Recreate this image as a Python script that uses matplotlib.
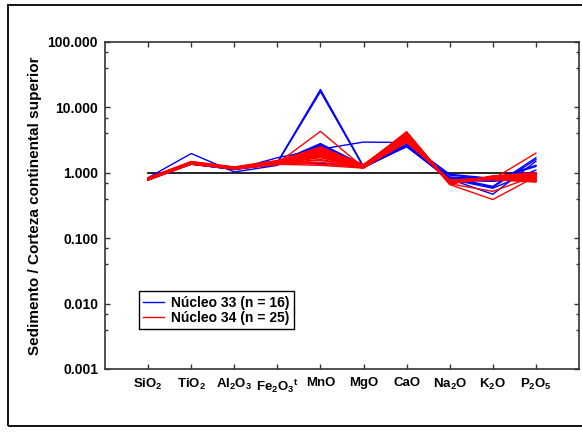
import matplotlib
matplotlib.use("Agg")
import matplotlib.pyplot as plt
from matplotlib.ticker import FixedLocator, FuncFormatter, NullFormatter
from matplotlib.patches import Rectangle
from matplotlib.lines import Line2D

plt.rcParams.update({
    "font.family": "Liberation Sans",
    "font.weight": "bold",
    "mathtext.fontset": "custom",
    "mathtext.rm": "Liberation Sans:bold",
    "mathtext.it": "Liberation Sans:bold",
    "mathtext.bf": "Liberation Sans:bold",
    "mathtext.default": "rm",
})

# Oxides normalised to upper continental crust
oxides = ["SiO$_2$", "TiO$_2$", "Al$_2$O$_3$", "Fe$_2$O$_3{}^{t}$", "MnO",
          "MgO", "CaO", "Na$_2$O", "K$_2$O", "P$_2$O$_5$"]

# Núcleo 33 (n = 16)
nucleo33 = [
    [0.84, 1.97, 1.03, 1.30, 2.60, 1.25, 2.55, 0.92, 0.80, 1.30],
    [0.80, 1.40, 1.12, 1.70, 2.30, 2.95, 2.90, 0.95, 0.82, 0.95],
    [0.80, 1.42, 1.15, 1.45, 18.8, 1.25, 2.60, 0.85, 0.62, 1.70],
    [0.79, 1.38, 1.14, 1.42, 17.4, 1.22, 2.55, 0.80, 0.47, 1.50],
    [0.80, 1.40, 1.18, 1.40, 2.75, 1.28, 2.65, 0.82, 0.60, 1.60],
    [0.81, 1.36, 1.16, 1.38, 2.65, 1.24, 2.70, 0.78, 0.78, 1.25],
    [0.79, 1.35, 1.13, 1.36, 2.55, 1.20, 2.60, 0.80, 0.75, 0.95],
    [0.80, 1.38, 1.17, 1.44, 2.50, 1.26, 2.55, 0.84, 0.80, 1.00],
    [0.82, 1.41, 1.20, 1.46, 2.70, 1.30, 2.50, 0.86, 0.79, 0.90],
    [0.78, 1.37, 1.15, 1.40, 2.60, 1.23, 2.62, 0.79, 0.77, 0.92],
    [0.80, 1.39, 1.14, 1.39, 1.40, 1.22, 2.58, 0.81, 0.76, 0.88],
    [0.81, 1.40, 1.16, 1.43, 2.45, 1.25, 2.68, 0.83, 0.81, 0.97],
    [0.79, 1.36, 1.12, 1.37, 2.35, 1.21, 2.52, 0.77, 0.74, 0.85],
    [0.80, 1.38, 1.15, 1.41, 2.65, 1.24, 2.64, 0.80, 0.58, 1.10],
    [0.82, 1.42, 1.19, 1.45, 2.80, 1.29, 2.72, 0.85, 0.80, 0.93],
    [0.80, 1.39, 1.16, 1.42, 2.55, 1.26, 2.60, 0.82, 0.78, 0.96],
]

# Núcleo 34 (n = 25)
nucleo34 = [
    [0.80, 1.42, 1.18, 1.40, 4.30, 1.20, 3.40, 0.72, 0.82, 0.85],
    [0.78, 1.38, 1.16, 1.35, 1.30, 1.18, 3.60, 0.70, 0.85, 0.80],
    [0.82, 1.45, 1.20, 1.48, 2.40, 1.28, 4.20, 0.68, 0.52, 0.90],
    [0.79, 1.40, 1.17, 1.42, 2.20, 1.25, 3.90, 0.66, 0.39, 0.88],
    [0.81, 1.44, 1.21, 1.50, 2.00, 1.30, 3.30, 0.74, 0.80, 2.00],
    [0.77, 1.36, 1.14, 1.33, 1.80, 1.20, 3.10, 0.76, 0.84, 0.75],
    [0.80, 1.41, 1.19, 1.45, 2.10, 1.27, 3.70, 0.70, 0.86, 0.92],
    [0.83, 1.47, 1.22, 1.52, 2.30, 1.32, 4.00, 0.72, 0.88, 0.95],
    [0.79, 1.39, 1.16, 1.38, 1.60, 1.22, 2.90, 0.78, 0.83, 0.78],
    [0.80, 1.43, 1.18, 1.44, 1.90, 1.26, 3.50, 0.69, 0.81, 0.86],
    [0.78, 1.37, 1.15, 1.36, 1.45, 1.19, 3.20, 0.75, 0.79, 0.72],
    [0.82, 1.46, 1.21, 1.49, 2.25, 1.29, 3.80, 0.71, 0.87, 0.98],
    [0.80, 1.40, 1.17, 1.41, 2.05, 1.24, 3.60, 0.73, 0.84, 0.84],
    [0.81, 1.42, 1.19, 1.46, 1.95, 1.27, 3.45, 0.70, 0.82, 0.89],
    [0.79, 1.38, 1.16, 1.39, 1.70, 1.21, 3.00, 0.77, 0.80, 0.76],
    [0.84, 1.49, 1.23, 1.54, 2.45, 1.34, 4.10, 0.67, 0.90, 1.00],
    [0.80, 1.41, 1.18, 1.43, 2.15, 1.25, 3.75, 0.72, 0.85, 0.87],
    [0.78, 1.36, 1.15, 1.37, 1.55, 1.18, 3.15, 0.74, 0.78, 0.74],
    [0.81, 1.44, 1.20, 1.47, 2.35, 1.28, 3.95, 0.69, 0.86, 0.93],
    [0.80, 1.39, 1.17, 1.40, 1.85, 1.23, 3.35, 0.71, 0.83, 0.82],
    [0.82, 1.43, 1.21, 1.48, 2.20, 1.30, 3.85, 0.68, 0.88, 0.96],
    [0.79, 1.40, 1.16, 1.39, 1.75, 1.22, 3.25, 0.75, 0.81, 0.79],
    [0.80, 1.42, 1.19, 1.45, 2.00, 1.26, 3.55, 0.70, 0.84, 0.88],
    [0.81, 1.41, 1.18, 1.42, 1.35, 1.24, 3.65, 0.73, 0.85, 0.85],
    [0.80, 1.40, 1.17, 1.44, 2.50, 1.27, 4.25, 0.69, 0.83, 0.91],
]

y_major = [0.001, 0.01, 0.1, 1, 10, 100]
y_minor = [k * 10.0 ** e for e in range(-3, 2) for k in (4, 7)]

fig = plt.figure(figsize=(5.82, 4.32), dpi=100)
ax = fig.add_axes([105 / 582, 1 - 369 / 432, 474 / 582, 327 / 432])

x = list(range(1, len(oxides) + 1))

# reference level (sample = crust)
ax.plot([x[0], x[-1]], [1, 1], color="black", lw=1.2, zorder=1)

for row in nucleo33:
    ax.plot(x, row, color="#0000ff", lw=1.0, zorder=2)
for row in nucleo34:
    ax.plot(x, row, color="#ff0000", lw=1.0, zorder=3)

ax.set_yscale("log")
ax.set_ylim(0.001, 100)
ax.set_xlim(0, 11)

ax.yaxis.set_major_locator(FixedLocator(y_major))
ax.yaxis.set_minor_locator(FixedLocator(y_minor))
ax.yaxis.set_major_formatter(FuncFormatter(lambda v, p: f"{v:.3f}"))
ax.yaxis.set_minor_formatter(NullFormatter())
ax.set_xticks(x)
ax.set_xticklabels(oxides)

ax.tick_params(axis="both", which="both", direction="in",
               top=True, right=True, width=1.0, color="#333333")
ax.tick_params(axis="y", which="major", labelsize=10, pad=5)
ax.tick_params(axis="x", which="major", labelsize=9.5, pad=6)
ax.tick_params(axis="both", which="major", length=3.5)
ax.tick_params(axis="y", which="minor", length=2.5)

for sp in ax.spines.values():
    sp.set_linewidth(1.2)
    sp.set_color("#333333")

ax.set_ylabel("Sedimento / Corteza continental superior", fontsize=11,
              fontweight="bold")
ax.yaxis.set_label_coords((42 - 105) / 474, 0.5)

handles = [Line2D([], [], color="#0000ff", lw=1.0),
           Line2D([], [], color="#ff0000", lw=1.0)]
leg = ax.legend(handles, ["Núcleo 33 (n = 16)", "Núcleo 34 (n = 25)"],
                loc="lower left", bbox_to_anchor=(0.072, 0.122),
                borderaxespad=0, fancybox=False, framealpha=1,
                edgecolor="black", fontsize=10, handlelength=1.5,
                handletextpad=0.5, labelspacing=0.1, borderpad=0.3)
leg.get_frame().set_linewidth(1.0)

# outer frame of the figure
fig.patches.append(Rectangle((8 / 582, 1 - 426 / 432), 600 / 582, 421 / 432,
                             transform=fig.transFigure, fill=False,
                             edgecolor="black", lw=1.3))

fig.savefig("out.png", dpi=100)
